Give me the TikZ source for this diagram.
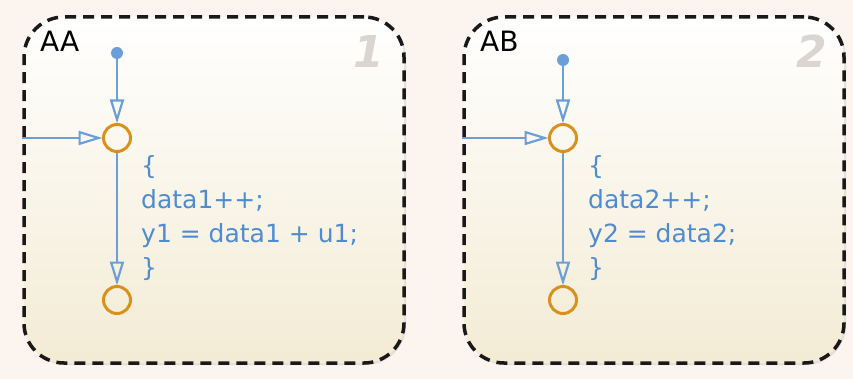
\documentclass[tikz,border=0pt]{standalone}
\usepackage{fontspec}
\setmainfont{DejaVu Sans}
\usetikzlibrary{positioning,arrows.meta,shadows,calc}
\definecolor{sfBack}{HTML}{FCF4EE}
\definecolor{sfTop}{HTML}{FFFFFF}
\definecolor{sfMid}{HTML}{FAEFE8}
\definecolor{sfLow}{HTML}{F3EBD4}
\definecolor{sfBlue}{HTML}{6C9FD8}
\definecolor{sfText}{HTML}{4F8BD0}
\definecolor{sfOrange}{HTML}{D9911E}
\definecolor{sfGrey}{HTML}{DAD5D0}

\begin{document}
\begin{tikzpicture}[x=1pt, y=-1pt,
      chartbox/.style={rounded corners=40pt, draw=black!90, line width=3.5pt,
        dash pattern=on 11pt off 7pt, minimum width=380pt, minimum height=346pt,
        top color=sfTop, middle color=sfMid, bottom color=sfLow,
        drop shadow={opacity=0.18, shadow xshift=2pt, shadow yshift=-2pt}},
      junction/.style={circle, draw=sfOrange, line width=3pt, fill=none,
        minimum size=27pt, inner sep=0pt},
      deftrans/.style={circle, fill=sfBlue, minimum size=12pt, inner sep=0pt},
      boxname/.style={anchor=north west, inner sep=0pt, font=\fontsize{28}{28}\selectfont},
      boxorder/.style={anchor=north east, inner sep=0pt, text=sfGrey,
        font=\fontsize{44}{44}\selectfont\bfseries\itshape},
      action/.style={anchor=north west, inner sep=0pt, align=left, text=sfText,
        font=\fontsize{25}{34}\selectfont},
      trans/.style={-{Triangle[open, length=24pt, width=14pt]}, line width=2.2pt,
        color=sfBlue, shorten >=-0.5pt}]
    \fill[sfBack] (0,0) rectangle (853,379);
    \useasboundingbox (0,0) rectangle (853,379);
    % chart AA
    \node[chartbox] (AA) at (214,190) {};
    \node[boxname] (AAname) at (40,31) {AA};
    \node[boxorder] (AAnum) at (384,35) {1};
    \node[deftrans] (AAdef) at (117,53) {};
    \node[junction] (AAin) at (117,138) {};
    \node[junction] (AAout) at (117,300) {};
    \coordinate (AAentry) at (AA.west |- AAin);
    \draw[trans] (AAdef) -- (AAin);
    \draw[trans] (AAentry) -- (AAin);
    \draw[trans] (AAin) -- (AAout);
    \node[action] (AAact) at (141,155) {\{\\data1++;\\y1 = data1 + u1;\\\}};
    % chart AB
    \node[chartbox] (AB) at (654,190) {};
    \node[boxname] (ABname) at (480,31) {AB};
    \node[boxorder] (ABnum) at (827,35) {2};
    \node[deftrans] (ABdef) at (563,60) {};
    \node[junction] (ABin) at (563,138) {};
    \node[junction] (ABout) at (563,300) {};
    \coordinate (ABentry) at (AB.west |- ABin);
    \draw[trans] (ABdef) -- (ABin);
    \draw[trans] (ABentry) -- (ABin);
    \draw[trans] (ABin) -- (ABout);
    \node[action] (ABact) at (588,155) {\{\\data2++;\\y2 = data2;\\\}};
  \end{tikzpicture}
\end{document}
